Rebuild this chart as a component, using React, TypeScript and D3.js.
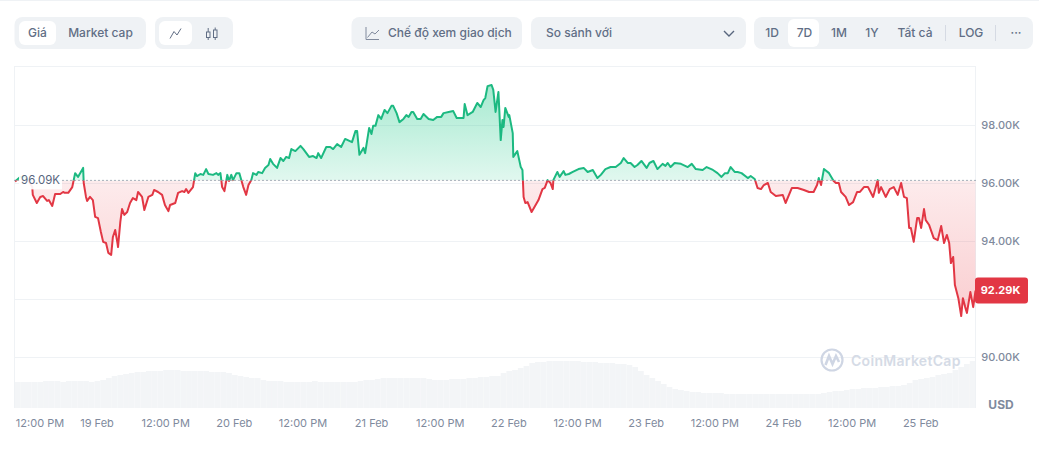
import React from 'react';
import * as d3 from 'd3';

// hours since the left edge of the 7D window
const priceHours = [
  0.1, 1.0, 1.8, 2.7, 3.1, 3.2, 3.9, 4.5, 5.0, 5.7, 6.0, 6.6, 7.1, 8.0, 8.5, 8.8, 9.4, 10.1, 10.6, 11.1,
  12.0, 12.1, 12.5, 12.7, 13.2, 13.7, 14.1, 14.6, 15.1, 15.5, 16.0, 16.4, 16.9, 17.2, 17.6, 18.0, 18.1, 18.5, 18.8, 19.2,
  19.7, 20.2, 20.7, 21.3, 21.6, 22.3, 22.7, 23.4, 24.1, 24.4, 25.1, 25.8, 26.3, 26.9, 27.2, 28.1, 28.6, 29.3, 29.7, 30.0,
  30.4, 31.2, 31.6, 31.9, 32.5, 33.0, 33.5, 33.9, 34.7, 35.3, 35.6, 36.0, 36.3, 36.7, 37.2, 37.5, 37.9, 38.2, 38.8, 39.3,
  40.0, 40.5, 40.9, 41.4, 41.7, 42.3, 42.6, 43.3, 43.8, 44.4, 44.7, 45.2, 45.9, 46.5, 47.0, 47.5, 48.0, 48.4, 49.1, 50.0,
  50.5, 51.5, 52.2, 52.8, 53.1, 53.6, 54.5, 55.2, 55.7, 56.4, 57.1, 57.8, 59.0, 59.6, 59.9, 60.3, 61.0, 61.3, 62.0, 62.4,
  62.7, 63.1, 63.6, 64.1, 64.7, 65.2, 65.9, 66.2, 66.8, 67.3, 68.0, 68.5, 68.9, 69.4, 69.7, 70.4, 71.0, 71.5, 72.4, 73.2,
  73.9, 74.6, 75.0, 75.9, 76.7, 77.3, 78.5, 78.7, 79.2, 80.1, 80.9, 81.5, 82.0, 82.3, 82.7, 83.4, 83.7, 84.1, 84.6, 85.0,
  85.3, 85.5, 85.8, 86.4, 86.5, 87.1, 87.2, 87.9, 88.5, 88.8, 89.0, 89.3, 89.7, 90.4, 91.1, 91.6, 92.3, 92.7, 93.2, 93.7,
  94.1, 94.2, 94.9, 95.3, 96.0, 96.3, 96.9, 97.6, 98.6, 99.5, 100.2, 101.1, 101.9, 102.5, 103.3, 104.2, 105.1, 106.0, 106.5, 107.2,
  107.7, 108.4, 108.9, 109.6, 110.5, 111.0, 111.7, 112.4, 113.3, 113.8, 114.2, 114.7, 115.4, 116.5, 117.7, 118.4, 119.1, 120.3, 121.0, 122.1,
  122.9, 123.6, 124.2, 124.7, 125.2, 125.9, 126.4, 127.1, 128.2, 128.7, 129.4, 129.9, 130.5, 131.0, 131.7, 132.2, 133.1, 134.3, 134.8, 135.9,
  136.9, 138.0, 138.9, 139.7, 140.3, 140.6, 141.0, 141.5, 142.4, 143.2, 143.6, 144.1, 144.5, 145.3, 145.9, 146.6, 147.3, 147.8, 148.5, 149.2,
  150.1, 150.9, 151.1, 151.5, 152.3, 153.0, 153.7, 154.4, 155.0, 155.5, 156.0, 156.4, 156.7, 157.2, 157.8, 158.1, 158.5, 159.0, 159.3, 159.9,
  160.7, 161.4, 162.0, 162.5, 163.0, 163.4, 163.7, 164.1, 164.4, 165.0, 165.5, 165.8, 166.2, 166.5, 167.1, 167.6, 168.0,
];

// price in thousands of USD, same length as priceHours
const priceValues = [
  96.05, 96.21, 96.21, 96.0, 95.86, 95.59, 95.31, 95.52, 95.55, 95.38, 95.41, 95.21, 95.62, 95.62, 95.69, 95.66, 95.66, 95.86, 96.34, 96.21,
  96.52, 96.0, 95.52, 95.38, 95.52, 95.41, 94.83, 94.79, 94.31, 93.97, 93.93, 93.59, 93.52, 94.14, 94.38, 93.93, 93.79, 94.66, 95.1, 94.9,
  95.0, 95.31, 95.48, 95.41, 95.69, 95.52, 95.07, 95.52, 95.59, 95.76, 95.69, 95.59, 95.24, 95.03, 95.24, 95.31, 95.66, 95.72, 95.69, 95.79,
  95.66, 95.86, 96.34, 96.24, 96.31, 96.28, 96.48, 96.31, 96.28, 96.34, 96.28, 96.34, 95.86, 95.72, 96.28, 96.07, 96.28, 96.1, 96.34, 96.34,
  95.86, 95.59, 95.93, 96.1, 96.34, 96.28, 96.38, 96.34, 96.52, 96.62, 96.83, 96.66, 96.52, 96.86, 96.76, 96.9, 96.86, 97.17, 97.1, 97.28,
  97.17, 96.9, 96.93, 96.86, 97.03, 96.86, 97.24, 97.24, 97.17, 97.34, 97.24, 97.52, 97.41, 97.79, 97.79, 96.97, 97.21, 97.03, 97.9, 97.69,
  97.97, 97.97, 98.34, 98.21, 98.52, 98.41, 98.66, 98.66, 98.41, 98.1, 98.21, 98.34, 98.28, 98.45, 98.45, 98.21, 98.21, 98.38, 98.21, 98.17,
  98.28, 98.28, 98.41, 98.45, 98.48, 98.24, 98.24, 98.72, 98.34, 98.45, 98.76, 98.62, 98.86, 98.93, 99.34, 99.38, 99.21, 98.45, 99.14, 97.48,
  98.17, 97.93, 98.59, 98.28, 98.34, 97.72, 96.9, 97.1, 96.55, 96.45, 95.52, 95.31, 95.34, 95.0, 95.24, 95.41, 95.79, 95.83, 96.1, 96.0,
  95.79, 96.1, 96.38, 96.21, 96.41, 96.28, 96.31, 96.38, 96.48, 96.52, 96.38, 96.45, 96.17, 96.28, 96.48, 96.55, 96.55, 96.69, 96.86, 96.69,
  96.69, 96.55, 96.62, 96.76, 96.52, 96.69, 96.76, 96.48, 96.66, 96.59, 96.69, 96.55, 96.69, 96.66, 96.55, 96.66, 96.48, 96.45, 96.55, 96.45,
  96.34, 96.21, 96.34, 96.34, 96.55, 96.38, 96.38, 96.34, 96.17, 96.24, 96.14, 95.83, 95.79, 95.93, 96.0, 95.69, 95.55, 95.59, 95.31, 95.83,
  95.83, 95.76, 95.69, 95.69, 95.93, 96.17, 95.93, 96.48, 96.34, 96.07, 96.0, 96.0, 95.69, 95.52, 95.24, 95.34, 95.69, 95.69, 95.86, 95.86,
  95.52, 96.1, 95.66, 95.86, 95.52, 95.79, 95.86, 95.59, 96.0, 95.52, 95.48, 94.45, 94.45, 93.97, 94.79, 94.79, 94.45, 95.1, 94.72, 94.55,
  94.1, 94.03, 94.52, 93.93, 94.21, 93.93, 93.24, 93.45, 92.48, 92.03, 91.41, 92.03, 91.72, 91.52, 92.24, 91.72, 92.29,
];

// hourly volume, relative units
const volumeValues = [
  26, 26, 26, 26, 26, 27, 27, 27, 26, 27, 27, 27, 27, 26, 27, 28, 30, 32, 33, 34, 35, 36, 36, 37,
  37, 37, 38, 38, 38, 37, 37, 37, 37, 37, 36, 36, 36, 35, 33, 32, 31, 30, 30, 28, 27, 27, 27, 26,
  26, 26, 26, 26, 27, 26, 26, 26, 26, 26, 26, 26, 27, 28, 28, 29, 30, 30, 30, 30, 30, 30, 30, 30,
  29, 28, 28, 28, 29, 29, 29, 30, 30, 31, 31, 32, 32, 35, 37, 38, 40, 42, 45, 46, 46, 47, 47, 47,
  47, 47, 47, 46, 46, 46, 45, 45, 45, 44, 44, 43, 41, 37, 33, 30, 27, 24, 21, 19, 18, 17, 16, 16,
  15, 15, 15, 15, 14, 14, 14, 14, 14, 14, 14, 14, 14, 14, 14, 14, 14, 14, 14, 14, 14, 15, 16, 17,
  17, 18, 19, 19, 20, 20, 20, 21, 21, 22, 22, 23, 25, 28, 29, 30, 31, 33, 34, 35, 38, 41, 44, 47,
];

const basePrice = 96.09;
const lastPrice = 92.29;
const yTicks = [98, 96, 94, 92, 90];
const yTickLabels = ['98.00K', '96.00K', '94.00K', '', '90.00K'];
const xTickHours = [2.43, 14.43, 26.43, 38.43, 50.43, 62.43, 74.43, 86.43, 98.43, 110.43, 122.43, 134.43, 146.43, 158.43];
const xTickLabels = ['12:00 PM', '19 Feb', '12:00 PM', '20 Feb', '12:00 PM', '21 Feb', '12:00 PM', '22 Feb', '12:00 PM', '23 Feb', '12:00 PM', '24 Feb', '12:00 PM', '25 Feb'];

const rangeLabels = ['1D', '7D', '1M', '1Y', 'Tất cả', 'LOG', '···'];
const rangeCenters = [772, 804.5, 839, 872, 915, 971, 1016];

const GREEN = '#1cb981';
const RED = '#e23744';
const FONT = 'Inter, "Noto Sans", sans-serif';

const left = 14.5;
const right = 975.5;
const bottom = 408;

const x = d3.scaleLinear().domain([0, 168]).range([left, right]);
const y = d3.scaleLinear().domain([90, 98]).range([357, 125]);
const volY = d3.scaleLinear().domain([0, 50]).range([bottom, bottom - 50]);

const points = priceHours.map((h, i) => ({ h, v: priceValues[i] }));
const linePath = d3.line<{ h: number; v: number }>().x(d => x(d.h)).y(d => y(d.v))(points) || '';
const areaPath = d3.area<{ h: number; v: number }>().x(d => x(d.h)).y0(y(basePrice)).y1(d => y(d.v))(points) || '';

const Btn = ({ x0, x1, y0 = 17, y1 = 49, fill = '#eff2f5', r = 8 }: any) => (
  <rect x={x0} y={y0} width={x1 - x0} height={y1 - y0} rx={r} fill={fill} />
);

const Label = ({ cx, children, anchor = 'middle', weight = 500 }: any) => (
  <text x={cx} y={33} dy="0.35em" textAnchor={anchor} fontSize={12} fontWeight={weight} fill="#616e85">{children}</text>
);

export default function App() {
  const baseY = y(basePrice);
  return (
    <svg width={1039} height={452} style={{ position: 'absolute', left: 0, top: 0, display: 'block' }} fontFamily={FONT}>
      <defs>
        <clipPath id="above"><rect x={left} y={0} width={right - left + 1} height={baseY} /></clipPath>
        <clipPath id="below"><rect x={left} y={baseY} width={right - left + 1} height={452 - baseY} /></clipPath>
        <linearGradient id="greenFill" gradientUnits="userSpaceOnUse" x1={0} x2={0} y1={y(99.4)} y2={baseY}>
          <stop offset="0" stopColor="#16c784" stopOpacity={0.38} />
          <stop offset="1" stopColor="#16c784" stopOpacity={0.13} />
        </linearGradient>
        <linearGradient id="redFill" gradientUnits="userSpaceOnUse" x1={0} x2={0} y1={baseY} y2={y(91.4)}>
          <stop offset="0" stopColor="#ea3943" stopOpacity={0.1} />
          <stop offset="1" stopColor="#ea3943" stopOpacity={0.25} />
        </linearGradient>
      </defs>

      <line x1={0} x2={1039} y1={0.5} y2={0.5} stroke="#eff2f5" />

      {/* toolbar */}
      <Btn x0={14.5} x1={146} />
      <Btn x0={19} x1={56} y0={21} y1={45} fill="#fff" r={6} />
      <Label cx={37.5}>Giá</Label>
      <Label cx={100.5}>Market cap</Label>

      <Btn x0={155} x1={233} />
      <Btn x0={159} x1={192} y0={21} y1={45} fill="#fff" r={6} />
      <path d="M170 38.5 L174 31.5 L177 35 L181 28.5" fill="none" stroke="#616e85" strokeWidth={1} />
      <g fill="none" stroke="#616e85" strokeWidth={1}>
        <rect x={206.5} y={32} width={3.5} height={5.5} />
        <rect x={213.5} y={30} width={3.5} height={7.5} />
        <path d="M208.2 28 V32 M208.2 37.5 V40 M215.2 27.5 V30 M215.2 37.5 V40" />
      </g>

      <Btn x0={351.5} x1={522} />
      <path d="M366 27 V39.5 H379 M367.5 37.5 L372 32 L375 34 L379 30" fill="none" stroke="#808a9d" strokeWidth={1} />
      <Label cx={388} anchor="start">Chế độ xem giao dịch</Label>

      <Btn x0={531} x1={746} />
      <text x={546} y={33} dy="0.35em" fontSize={12} fontWeight={500} fill="#616e85">So sánh với</text>
      <path d="M724 31 L729 36 L734 31" fill="none" stroke="#58667e" strokeWidth={1.4} />

      <Btn x0={754} x1={1033} />
      <Btn x0={788} x1={819} y0={19} y1={47} fill="#fff" r={6} />
      {rangeLabels.map((t, i) => <Label key={t} cx={rangeCenters[i]}>{t}</Label>)}
      <line x1={945.5} x2={945.5} y1={25} y2={41} stroke="#d5dae3" />
      <line x1={995.5} x2={995.5} y1={25} y2={41} stroke="#d5dae3" />

      {/* volume */}
      {volumeValues.map((v, i) => (
        <rect key={i} x={x(i)} y={volY(v)} width={Math.max(0, Math.min(x(i + 1), right) - x(i))} height={bottom - volY(v)} fill="#f3f5f7" />
      ))}

      {/* frame and grid */}
      <line x1={left} x2={right} y1={66.5} y2={66.5} stroke="#eff2f5" />
      <line x1={left} x2={left} y1={66} y2={bottom} stroke="#eff2f5" />
      <line x1={right} x2={right} y1={66} y2={bottom} stroke="#eff2f5" />
      {yTicks.map((t, i) => (
        <g key={t}>
          <line x1={left} x2={right} y1={y(t) + 0.5} y2={y(t) + 0.5} stroke="#eff2f5" />
          {yTickLabels[i] && (
            <text x={1000.5} y={y(t) + 0.5} dy="0.35em" textAnchor="middle" fontSize={11} fontWeight={500} fill="#808a9d">{yTickLabels[i]}</text>
          )}
        </g>
      ))}
      <text x={1001} y={405} dy="0.35em" textAnchor="middle" fontSize={12} fontWeight={700} fill="#808a9d">USD</text>

      {/* watermark */}
      <g fill="none" stroke="#cfd6e4" strokeWidth={2.2}>
        <circle cx={832} cy={360} r={10.5} />
        <path d="M825.5 365 L829 356 L832.5 364 L836 356 L839 362" strokeWidth={2.6} />
      </g>
      <text x={851} y={361} dy="0.35em" fontSize={14} fontWeight={600} letterSpacing={0.3} fill="#d5dbe6">CoinMarketCap</text>

      {/* price */}
      <path d={areaPath} fill="url(#greenFill)" clipPath="url(#above)" />
      <path d={areaPath} fill="url(#redFill)" clipPath="url(#below)" />
      <path d={linePath} fill="none" stroke={GREEN} strokeWidth={2} strokeLinejoin="round" clipPath="url(#above)" />
      <path d={linePath} fill="none" stroke={RED} strokeWidth={2} strokeLinejoin="round" clipPath="url(#below)" />

      {/* base price */}
      <line x1={left} x2={right} y1={baseY} y2={baseY} stroke="#58667e" strokeDasharray="1 3" />
      <rect x={19} y={baseY - 9} width={43} height={18} fill="#fff" fillOpacity={0.92} />
      <text x={21} y={baseY} dy="0.35em" fontSize={11.5} fontWeight={400} fill="#58667e">{d3.format('.2f')(basePrice)}K</text>

      {/* last price tag */}
      <rect x={975} y={y(lastPrice) - 13} width={53} height={26} rx={3} fill={RED} />
      <text x={1000.5} y={y(lastPrice)} dy="0.35em" textAnchor="middle" fontSize={11} fontWeight={700} fill="#fff">{d3.format('.2f')(lastPrice)}K</text>

      {/* time axis */}
      {xTickHours.map((h, i) => (
        <text key={h} x={Math.max(x(h), 40)} y={423} dy="0.35em" textAnchor="middle" fontSize={11} fontWeight={400} fill="#808a9d">{xTickLabels[i]}</text>
      ))}
    </svg>
  );
}
